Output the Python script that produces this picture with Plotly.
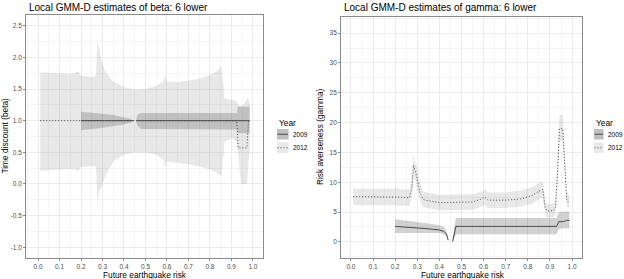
import plotly.graph_objects as go

# ---------------- data: left panel (beta) ----------------
beta12_x = [0.01, 0.15, 0.17, 0.18, 0.19, 0.2, 0.26, 0.27, 0.277, 0.285, 0.295, 0.31, 0.32, 0.35,
            0.4, 0.45, 0.5, 0.55, 0.585, 0.592, 0.6, 0.65, 0.7, 0.75, 0.8, 0.83, 0.855, 0.868,
            0.9, 0.925, 0.932, 0.945, 0.96, 0.972, 0.98, 0.985]
beta12_mid = [1.0, 1.0, 1.0, 1.0, 1.0, 1.0, 1.0, 1.0, 1.0, 1.0, 1.0, 1.0, 1.0, 1.0,
              1.0, 1.0, 1.0, 1.0, 1.0, 1.0, 1.0, 1.0, 1.0, 1.0, 1.0, 1.0, 1.0, 1.0,
              1.0, 1.0, 0.57, 0.57, 0.57, 0.57, 1.0, 1.0]
beta12_hi = [1.76, 1.74, 1.75, 1.78, 1.77, 1.71, 1.69, 1.72, 2.28, 2.10, 1.95, 1.80, 1.74, 1.62,
             1.53, 1.49, 1.50, 1.55, 1.63, 1.73, 1.62, 1.61, 1.63, 1.66, 1.72, 1.78, 1.86, 1.35,
             1.33, 1.31, 1.25, 1.23, 1.26, 1.36, 1.34, 1.30]
beta12_lo = [0.21, 0.24, 0.24, 0.21, 0.21, 0.27, 0.28, 0.28, -0.33, -0.10, -0.06, 0.10, 0.18, 0.36,
             0.46, 0.50, 0.50, 0.46, 0.38, 0.26, 0.36, 0.34, 0.31, 0.28, 0.23, 0.18, 0.12, 0.67,
             0.72, 0.68, 0.45, 0.0, 0.0, 0.0, 0.35, 0.50]

beta09_x = [0.2, 0.25, 0.3, 0.35, 0.4, 0.43, 0.443, None, 0.458, 0.465, 0.48, 0.5, 0.6, 0.7,
            0.8, 0.9, 0.925, 0.93, 0.96, 0.985]
beta09_mid = [1.0, 1.0, 1.0, 1.0, 1.0, 1.0, 1.0, None, 1.0, 1.0, 1.0, 1.0, 1.0, 1.0,
              1.0, 1.0, 1.0, 1.0, 1.0, 1.0]
beta09_hi = [1.14, 1.13, 1.11, 1.09, 1.06, 1.03, 1.0, None, 1.05, 1.10, 1.12, 1.12, 1.12, 1.12,
             1.12, 1.12, 1.12, 1.22, 1.22, 1.22]
beta09_lo = [0.85, 0.87, 0.89, 0.91, 0.94, 0.97, 1.0, None, 0.96, 0.91, 0.87, 0.86, 0.86, 0.86,
             0.86, 0.86, 0.86, 0.80, 0.80, 0.80]

# ---------------- data: right panel (gamma) ----------------
gamma12_x = [0.01, 0.1, 0.2, 0.205, 0.22, 0.265, 0.275, 0.283, 0.29, 0.297, 0.312, 0.327, 0.35,
             0.4, 0.45, 0.5, 0.55, 0.59, 0.605, 0.62, 0.7, 0.77, 0.82, 0.855, 0.868, 0.878,
             0.886, 0.915, 0.925, 0.935, 0.943, 0.958, 0.968, 0.976, 0.988]
gamma12_mid = [7.6, 7.6, 7.5, 7.6, 7.5, 7.4, 9.0, 12.9, 12.0, 11.0, 8.2, 7.1, 6.9,
               6.6, 6.6, 6.6, 6.7, 7.2, 7.5, 7.0, 7.0, 7.2, 7.8, 8.6, 8.8, 5.8,
               5.2, 5.2, 5.8, 12.0, 19.0, 19.0, 12.0, 7.0, 6.5]
gamma12_lo = [6.2, 6.2, 6.2, 6.2, 6.1, 6.0, 7.5, 10.8, 10.5, 9.8, 6.8, 5.8, 5.6,
              5.3, 5.3, 5.3, 5.4, 5.9, 6.2, 5.7, 5.7, 5.9, 6.4, 7.2, 7.4, 4.6,
              4.1, 4.1, 4.6, 10.0, 17.0, 17.0, 10.5, 6.0, 5.6]
gamma12_hi = [8.9, 8.9, 8.9, 9.2, 8.8, 8.8, 10.5, 14.8, 13.3, 12.8, 9.8, 8.5, 8.2,
              7.9, 7.9, 7.9, 8.0, 8.4, 8.8, 8.3, 8.3, 8.6, 9.2, 9.9, 10.1, 7.0,
              6.4, 6.4, 7.0, 14.0, 21.3, 21.3, 14.0, 8.5, 7.8]

gamma09_x = [0.2, 0.25, 0.3, 0.35, 0.4, 0.42, 0.432, 0.44, None, 0.46, 0.465, 0.475, 0.5, 0.6,
             0.7, 0.8, 0.9, 0.93, 0.94, 0.96, 0.975, 0.988]
gamma09_mid = [2.6, 2.5, 2.35, 2.2, 2.0, 1.75, 1.3, 0.3, None, 0.1, 1.0, 2.6, 2.6, 2.6,
               2.6, 2.55, 2.55, 2.6, 3.4, 3.4, 3.6, 3.6]
gamma09_lo = [1.5, 1.5, 1.5, 1.5, 1.5, 1.3, 0.9, 0.1, None, 0.0, 0.5, 1.3, 1.3, 1.3,
              1.3, 1.3, 1.3, 1.3, 2.2, 2.2, 2.3, 2.3]
gamma09_hi = [3.8, 3.6, 3.4, 3.1, 2.8, 2.5, 1.9, 0.6, None, 0.3, 2.0, 4.0, 4.0, 4.0,
              4.0, 4.0, 4.0, 4.0, 5.0, 5.0, 5.1, 5.1]

years = ["2009", "2012"]
x_tickvals = [0.0, 0.1, 0.2, 0.3, 0.4, 0.5, 0.6, 0.7, 0.8, 0.9, 1.0]
x_ticktext = ["0.0", "0.1", "0.2", "0.3", "0.4", "0.5", "0.6", "0.7", "0.8", "0.9", "1.0"]
beta_tickvals = [-1.0, -0.5, 0.0, 0.5, 1.0, 1.5, 2.0, 2.5]
beta_ticktext = ["-1.0", "-0.5", "0.0", "0.5", "1.0", "1.5", "2.0", "2.5"]
gamma_tickvals = [0, 5, 10, 15, 20, 25, 30, 35]
gamma_ticktext = ["0", "5", "10", "15", "20", "25", "30", "35"]

titles = ["Local GMM-D estimates of beta: 6 lower", "Local GMM-D estimates of gamma: 6 lower"]
ytitles = ["Time discount (beta)", "Risk averseness (gamma)"]
xtitle = "Future earthquake risk"

# ---------------- styling ----------------
W, H = 624, 279
FILL12 = "rgba(150,150,150,0.22)"
FILL09 = "rgba(70,70,70,0.25)"
LINE = "#4a4a4a"
DOT = "1px,2px"
FONT = "Liberation Sans, Arial, sans-serif"


def px(x):
    return x / W


def py(y):
    return 1 - y / H


def segments(x):
    segs, cur = [], []
    for i, xv in enumerate(x):
        if xv is None:
            if cur:
                segs.append(cur)
            cur = []
        else:
            cur.append(i)
    if cur:
        segs.append(cur)
    return segs


def ribbon(x, lo, hi):
    rx, ry = [], []
    for seg in segments(x):
        xs = [x[i] for i in seg]
        rx += xs + xs[::-1] + [None]
        ry += [hi[i] for i in seg] + [lo[i] for i in seg][::-1] + [None]
    return rx[:-1], ry[:-1]


fig = go.Figure()

panels = [
    ("x", "y", beta12_x, beta12_mid, beta12_lo, beta12_hi, beta09_x, beta09_mid, beta09_lo, beta09_hi),
    ("x2", "y2", gamma12_x, gamma12_mid, gamma12_lo, gamma12_hi, gamma09_x, gamma09_mid, gamma09_lo, gamma09_hi),
]
for xa, ya, x12, m12, l12, h12, x09, m09, l09, h09 in panels:
    rx, ry = ribbon(x12, l12, h12)
    fig.add_trace(go.Scatter(x=rx, y=ry, fill="toself", fillcolor=FILL12, line=dict(width=0),
                             mode="lines", xaxis=xa, yaxis=ya, showlegend=False, hoverinfo="skip"))
    rx, ry = ribbon(x09, l09, h09)
    fig.add_trace(go.Scatter(x=rx, y=ry, fill="toself", fillcolor=FILL09, line=dict(width=0),
                             mode="lines", xaxis=xa, yaxis=ya, showlegend=False, hoverinfo="skip"))
    fig.add_trace(go.Scatter(x=x09, y=m09, mode="lines", line=dict(color=LINE, width=1),
                             xaxis=xa, yaxis=ya, showlegend=False, connectgaps=False))
    fig.add_trace(go.Scatter(x=x12, y=m12, mode="lines", line=dict(color=LINE, width=1, dash=DOT),
                             xaxis=xa, yaxis=ya, showlegend=False))

axis_common = dict(
    showgrid=True, gridcolor="#ebebeb", gridwidth=0.8,
    minor=dict(showgrid=True, gridcolor="#f4f4f4", gridwidth=0.5),
    showline=True, mirror=True, linecolor="#8a8a8a", linewidth=0.8,
    ticks="outside", ticklen=2, tickcolor="#8a8a8a", tickwidth=0.8,
    tickfont=dict(family=FONT, size=6.5, color="#4d4d4d"),
    zeroline=False, fixedrange=True,
)

fig.update_layout(
    width=W, height=H, margin=dict(l=0, r=0, t=0, b=0),
    paper_bgcolor="white", plot_bgcolor="white", showlegend=False,
    xaxis=dict(domain=[px(26), px(263)], range=[-0.056, 1.047], anchor="y",
               tickvals=x_tickvals, ticktext=x_ticktext, **axis_common),
    yaxis=dict(domain=[py(258), py(15)], range=[-1.17, 2.67], anchor="x",
               tickvals=beta_tickvals, ticktext=beta_ticktext, **axis_common),
    xaxis2=dict(domain=[px(341), px(582)], range=[-0.045, 1.045], anchor="y2",
                tickvals=x_tickvals, ticktext=x_ticktext, **axis_common),
    yaxis2=dict(domain=[py(258), py(17)], range=[-2.7, 37.7], anchor="x2",
                tickvals=gamma_tickvals, ticktext=gamma_ticktext, **axis_common),
)
fig.update_xaxes(minor=dict(dtick=0.05, tick0=0.05))
fig.update_yaxes(minor=dict(dtick=0.25), selector=dict(anchor="x"))
fig.update_yaxes(minor=dict(dtick=2.5), selector=dict(anchor="x2"))

ann = []
for tx, t in zip([27, 342], titles):
    ann.append(dict(x=px(tx), y=py(7), xref="paper", yref="paper", text=t, showarrow=False,
                    xanchor="left", yanchor="middle", font=dict(family=FONT, size=10, color="black")))
for cx in [145, 463]:
    ann.append(dict(x=px(cx), y=py(275), xref="paper", yref="paper", text=xtitle, showarrow=False,
                    xanchor="center", yanchor="middle", font=dict(family=FONT, size=8.3, color="black")))
for cx, cy, t in [(4.5, 136, ytitles[0]), (320, 137, ytitles[1])]:
    ann.append(dict(x=px(cx), y=py(cy), xref="paper", yref="paper", text=t, showarrow=False,
                    textangle=-90, xanchor="center", yanchor="middle",
                    font=dict(family=FONT, size=8.3, color="black")))

shapes = []
for lx, kw, gap in [(277, 11.5, 14), (594, 9.5, 11.5)]:
    ann.append(dict(x=px(lx - 0.5), y=py(122.5), xref="paper", yref="paper", text="Year", showarrow=False,
                    xanchor="left", yanchor="middle", font=dict(family=FONT, size=8.3, color="black")))
    for k, (yr, fill, dash) in enumerate(zip(years, [FILL09, FILL12], ["solid", DOT])):
        y0 = 129 + k * 13.5
        shapes.append(dict(type="rect", xref="paper", yref="paper", x0=px(lx), x1=px(lx + kw),
                           y0=py(y0), y1=py(y0 + 10.5), fillcolor=FILL12, line=dict(width=0)))
        if yr == "2009":
            shapes.append(dict(type="rect", xref="paper", yref="paper", x0=px(lx), x1=px(lx + kw),
                               y0=py(y0), y1=py(y0 + 10.5), fillcolor=FILL09, line=dict(width=0)))
        shapes.append(dict(type="line", xref="paper", yref="paper", x0=px(lx + 0.5), x1=px(lx + kw - 0.5),
                           y0=py(y0 + 5.25), y1=py(y0 + 5.25), line=dict(color=LINE, width=1, dash=dash)))
        ann.append(dict(x=px(lx + gap), y=py(y0 + 5.25), xref="paper", yref="paper", text=yr, showarrow=False,
                        xanchor="left", yanchor="middle", font=dict(family=FONT, size=6.5, color="black")))

fig.update_layout(annotations=ann, shapes=shapes)
fig.write_html("out.html")
